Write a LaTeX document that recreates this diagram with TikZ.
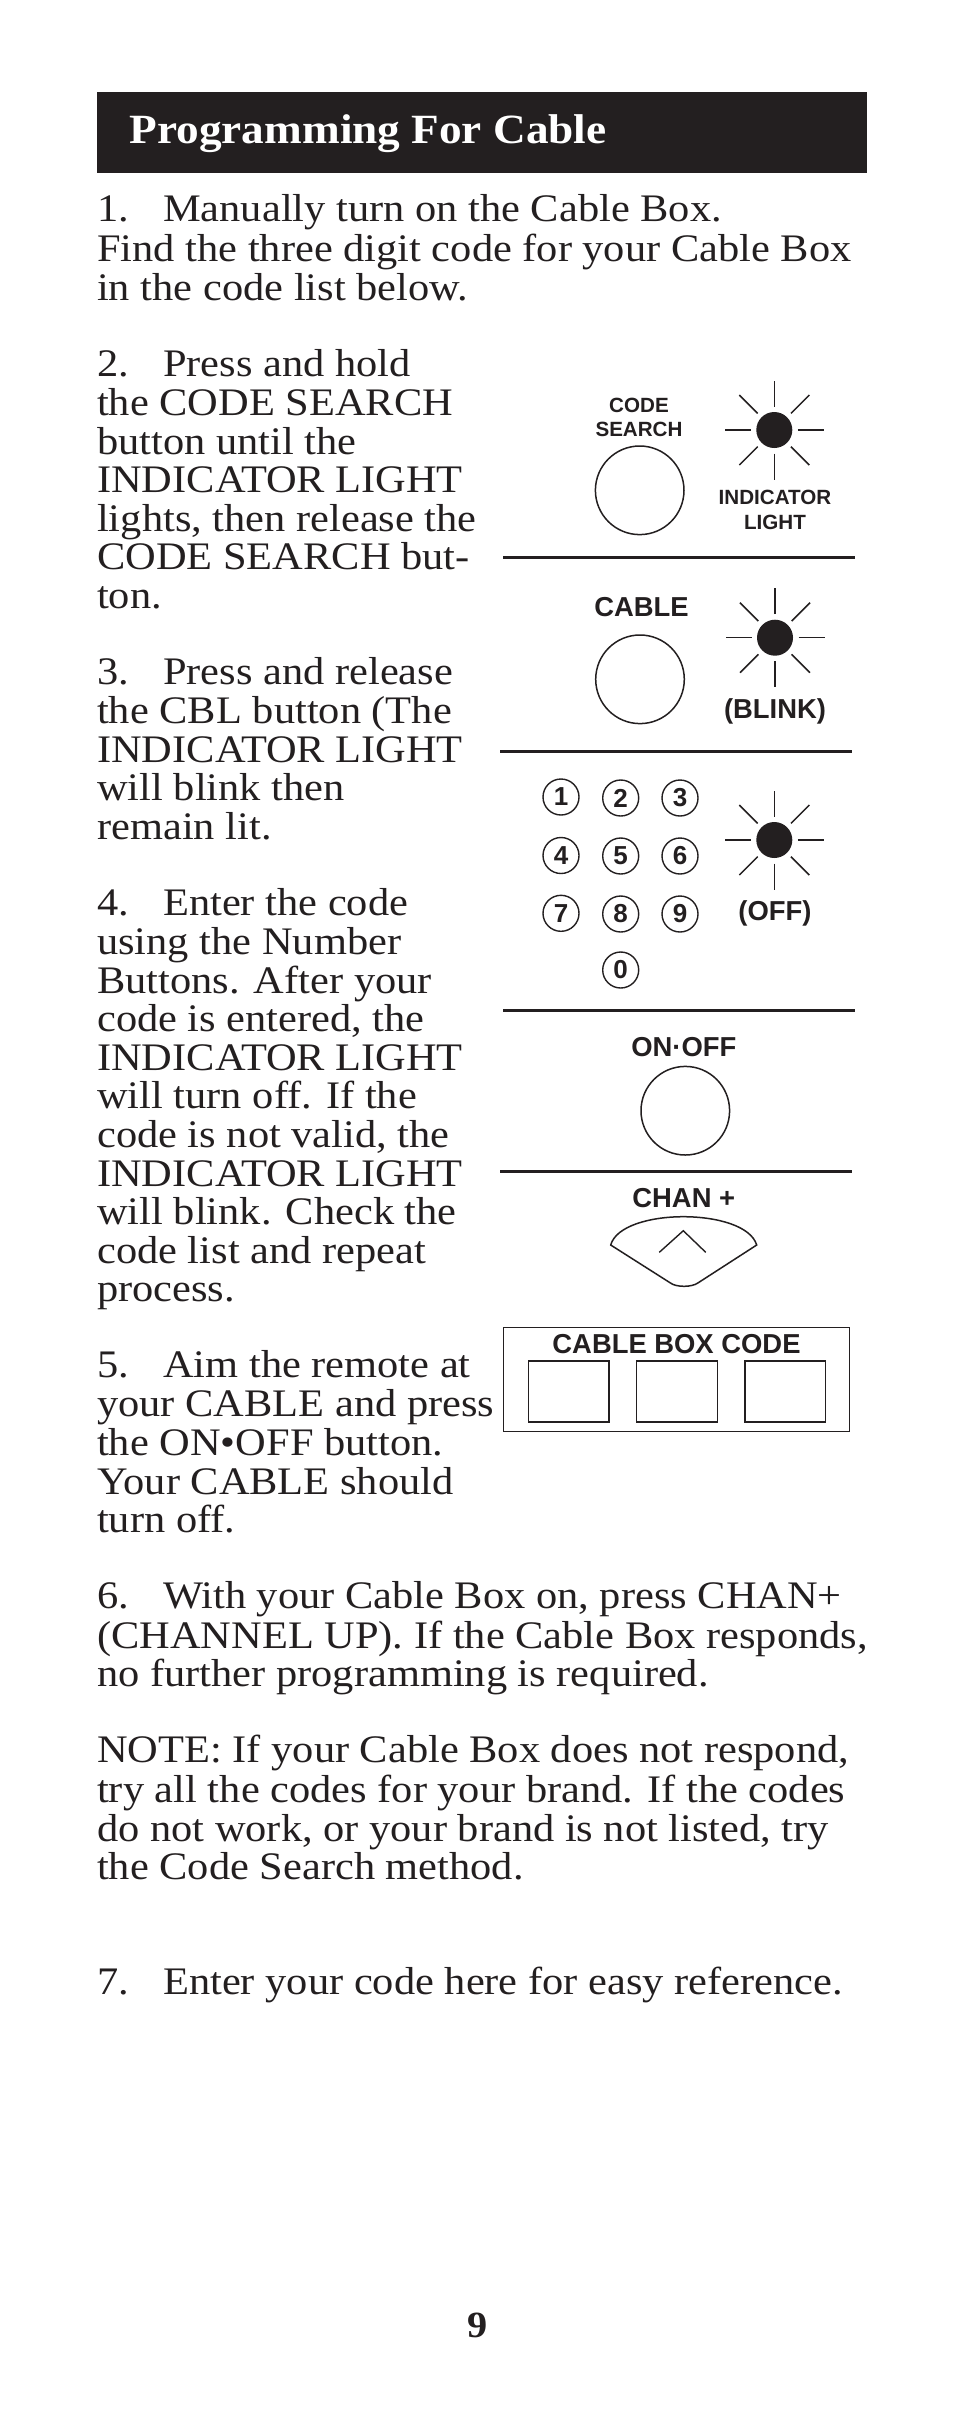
\documentclass[tikz,border=0pt]{standalone}
\usepackage{fontspec}
\setmainfont{Liberation Serif}[FakeStretch=1.088]
\setsansfont{Liberation Sans}
\usetikzlibrary{positioning}
\definecolor{ink}{HTML}{231F20}
\newcommand{\stepnum}[1]{\makebox[66pt][l]{#1}}

\begin{document}
\begin{tikzpicture}[x=1pt, y=-1pt, node distance=36.6pt, text=ink]
\tikzset{
	steptext/.style={anchor=north west, inner sep=0pt, align=left, font=\fontsize{39}{38.55}\selectfont},
	panelrule/.style={draw=ink, line width=3pt},
	roundbutton/.style={circle, draw=ink, line width=1.5pt, minimum size=88.6pt, inner sep=0pt},
	numberkey/.style={circle, draw=ink, line width=1.4pt, minimum size=36pt, inner sep=0pt, font=\sffamily\bfseries\fontsize{26}{26}\selectfont},
	lightdot/.style={circle, fill=ink, minimum size=36pt, inner sep=0pt},
	lightray/.style={draw=ink, line width=1.5pt},
	smalllabel/.style={inner sep=0pt, align=center, font=\sffamily\bfseries\fontsize{20.6}{24.5}\selectfont},
	biglabel/.style={inner sep=0pt, align=center, font=\sffamily\bfseries\fontsize{27.4}{30}\selectfont},
	codebox/.style={draw=ink, line width=1.5pt, minimum width=80.7pt, minimum height=61pt, inner sep=0pt}
}
\path[fill=white, use as bounding box] (0,0) rectangle (954,2429);

% heading
\node[fill=ink, minimum width=770pt, minimum height=81pt, inner sep=0pt] (bar) at (482,132.5) {};
\node[inner sep=0pt, anchor=base west, text=white, font=\bfseries\fontsize{41.6}{41.6}\selectfont] (heading) at (129.5,143) {Programming For Cable};

% steps
\node[steptext] (step1) at (97,194.7) {\strut\stepnum{1.}Manually turn on the Cable Box.\\
	Find the three digit code for your Cable Box\\
	in the code list below.\strut};
\node[steptext, below=of step1.south west, anchor=north west] (step2) {\strut\stepnum{2.}Press and hold\\
	the CODE SEARCH\\
	button until the\\
	INDICATOR LIGHT\\
	lights, then release the\\
	CODE SEARCH but-\\
	ton.\strut};
\node[steptext, below=of step2.south west, anchor=north west] (step3) {\strut\stepnum{3.}Press and release\\
	the CBL button (The\\
	INDICATOR LIGHT\\
	will blink then\\
	remain lit.\strut};
\node[steptext, below=of step3.south west, anchor=north west] (step4) {\strut\stepnum{4.}Enter the code\\
	using the Number\\
	Buttons. After your\\
	code is entered, the\\
	INDICATOR LIGHT\\
	will turn off. If the\\
	code is not valid, the\\
	INDICATOR LIGHT\\
	will blink. Check the\\
	code list and repeat\\
	process.\strut};
\node[steptext, below=of step4.south west, anchor=north west] (step5) {\strut\stepnum{5.}Aim the remote at\\
	your CABLE and press\\
	the ON\textbullet OFF button.\\
	Your CABLE should\\
	turn off.\strut};
\node[steptext, below=of step5.south west, anchor=north west] (step6) {\strut\stepnum{6.}With your Cable Box on, press CHAN+\\
	(CHANNEL UP). If the Cable Box responds,\\
	no further programming is required.\strut};
\node[steptext, below=of step6.south west, anchor=north west] (note) {\strut NOTE: If your Cable Box does not respond,\\
	try all the codes for your brand. If the codes\\
	do not work, or your brand is not listed, try\\
	the Code Search method.\strut};
\node[steptext, below=75.1pt of note.south west, anchor=north west] (step7) {\strut\stepnum{7.}Enter your code here for easy reference.\strut};

% code search panel
\node[smalllabel] (searchlabel) at (639,417.5) {CODE\\SEARCH};
\node[roundbutton] (searchbutton) at (639.7,490.3) {};
\node[lightdot] (light1) at (774.3,430) {};
\node[smalllabel] (indicator) at (775,510) {INDICATOR\\LIGHT};
\coordinate (rule1a) at (503,557.3);
\coordinate (rule1b) at (855,557.3);
\draw[panelrule] (rule1a) -- (rule1b);

% cable panel
\node[biglabel] (cablelabel) at (641.5,607.5) {CABLE};
\node[roundbutton] (cablebutton) at (640,679.3) {};
\node[lightdot] (light2) at (775,637.7) {};
\node[biglabel] (blink) at (775,711) {(BLINK)};
\coordinate (rule2a) at (500,751.7);
\coordinate (rule2b) at (852,751.7);
\draw[panelrule] (rule2a) -- (rule2b);

% number buttons
\foreach \num/\keyx/\keyy in {1/561/797, 2/620.7/798, 3/680/798, 4/561/855.5, 5/620.7/856, 6/680/856, 7/561/913.3, 8/620.7/914, 9/680/914, 0/620.7/970}
	\node[numberkey] (key\num) at (\keyx,\keyy) {\num};
\node[lightdot] (light3) at (774.3,840) {};
\node[biglabel] (off) at (775,913.5) {(OFF)};
\coordinate (rule3a) at (503,1010);
\coordinate (rule3b) at (855,1010);
\draw[panelrule] (rule3a) -- (rule3b);

\foreach \lamp in {light1,light2,light3}
	\foreach \a in {0,45,...,315}
		\draw[lightray] (\lamp.center) ++(\a:23.5) -- ++(\a:26);

% on off and channel
\node[biglabel] (onofflabel) at (683.8,1047.3) {ON·OFF};
\node[roundbutton] (onoffbutton) at (685.3,1110.7) {};
\coordinate (rule4a) at (500,1171.3);
\coordinate (rule4b) at (852,1171.3);
\draw[panelrule] (rule4a) -- (rule4b);
\node[biglabel] (chanlabel) at (683.8,1198.3) {CHAN +};
\draw[draw=ink, line width=1.5pt] (610.7,1245) .. controls (616,1226) and (650,1216.7) .. (683.3,1216.7)
	.. controls (717,1216.7) and (751,1226) .. (756.7,1245) -- (698.3,1282.7)
	.. controls (692,1287.5) and (676,1287.5) .. (670,1282.7) -- cycle;
\draw[draw=ink, line width=1.4pt] (659.3,1252.3) -- (683.3,1230.7) -- (705.7,1252.3);

% code boxes
\node[draw=ink, line width=1.5pt, minimum width=346pt, minimum height=104pt, inner sep=0pt] (codepanel) at (676.3,1379.7) {};
\node[biglabel] (codelabel) at (676.5,1344.3) {CABLE BOX CODE};
\node[codebox] (box1) at (568.7,1391.3) {};
\node[codebox, right=26pt of box1] (box2) {};
\node[codebox, right=26pt of box2] (box3) {};

% page number
\node[inner sep=0pt, anchor=base, font=\bfseries\fontsize{37}{37}\selectfont] (page) at (477.5,2337.5) {9};
\end{tikzpicture}
\end{document}
